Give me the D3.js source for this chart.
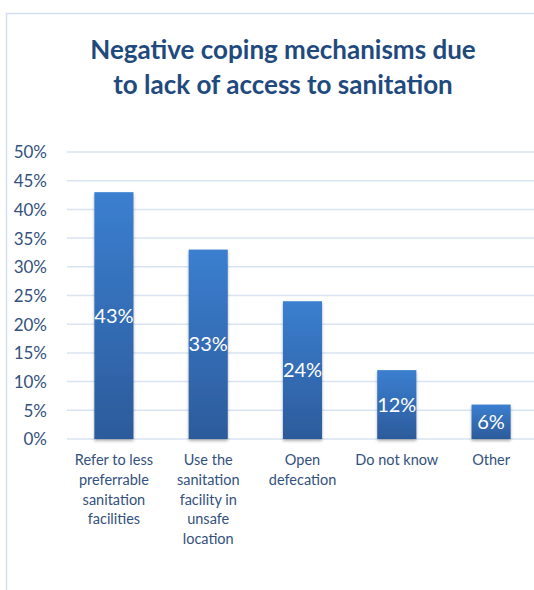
<!DOCTYPE html>
<html>
<head>
<meta charset="utf-8">
<script src="https://cdn.jsdelivr.net/npm/d3@7/dist/d3.min.js"></script>
<style>
  html, body { margin: 0; padding: 0; background: #fff; }
  svg { display: block; }
</style>
</head>
<body>
<svg id="chart" width="534" height="590"></svg>
<script>
// Coping mechanisms reported and their shares
const categories = [
  ["Refer to less", "preferrable", "sanitation", "facilities"],
  ["Use the", "sanitation", "facility in", "unsafe", "location"],
  ["Open", "defecation"],
  ["Do not know"],
  ["Other"]
];
const values = [0.43, 0.33, 0.24, 0.12, 0.06];
const yTicks = [0, 0.05, 0.10, 0.15, 0.20, 0.25, 0.30, 0.35, 0.40, 0.45, 0.50];
const titleLines = ["Negative coping mechanisms due", "to lack of access to sanitation"];

const font = "Lato, 'Open Sans', sans-serif";
const svg = d3.select("#chart");

// Gradient fill for the bars
const defs = svg.append("defs");
const grad = defs.append("linearGradient")
  .attr("id", "barGrad").attr("x1", 0).attr("y1", 0).attr("x2", 0).attr("y2", 1);
grad.append("stop").attr("offset", "0%").attr("stop-color", "#3b7fd0");
grad.append("stop").attr("offset", "100%").attr("stop-color", "#2c5b9b");
const shadow = defs.append("filter").attr("id", "shadow")
  .attr("x", "-20%").attr("y", "-5%").attr("width", "140%").attr("height", "115%");
shadow.append("feDropShadow").attr("dx", 0).attr("dy", 2).attr("stdDeviation", 1.5)
  .attr("flood-color", "#000").attr("flood-opacity", 0.3);

// Chart frame
svg.append("rect")
  .attr("x", 6.5).attr("y", 13.5).attr("width", 540).attr("height", 590)
  .attr("fill", "none").attr("stroke", "#d3e0f0").attr("stroke-width", 1.5);

// Title
svg.append("text")
  .attr("x", 283).attr("y", 59)
  .attr("text-anchor", "middle")
  .attr("font-family", font)
  .attr("font-weight", "bold").attr("font-size", 26)
  .attr("fill", "#1f4a7e")
  .selectAll("tspan").data(titleLines).join("tspan")
  .attr("x", 283).attr("dy", (d, i) => i === 0 ? 0 : 35)
  .text(d => d);

const margin = { left: 67, right: -4 };
const width = 534 - margin.left - margin.right;
const plotTop = 152, plotBottom = 439;

const x = d3.scaleBand()
  .domain(d3.range(values.length))
  .range([margin.left, margin.left + width])
  .paddingInner(0.585).paddingOuter(0.29);

const y = d3.scaleLinear().domain([0, 0.5]).range([plotBottom, plotTop]);

// Gridlines
svg.append("g")
  .selectAll("line").data(yTicks).join("line")
  .attr("x1", margin.left).attr("x2", 534)
  .attr("y1", d => y(d)).attr("y2", d => y(d))
  .attr("stroke", "#d9e4f2").attr("stroke-width", 1.5);

// Y axis labels
const yAxis = d3.axisLeft(y).tickValues(yTicks).tickFormat(d3.format(".0%")).tickSize(0).tickPadding(0);
const gy = svg.append("g").attr("transform", "translate(47,0)").call(yAxis);
gy.select(".domain").remove();
gy.selectAll("text")
  .attr("font-family", font).attr("font-size", 17)
  .attr("fill", "#33517d").attr("dy", "0.35em");

// Bars
svg.append("g")
  .selectAll("rect").data(values).join("rect")
  .attr("x", (d, i) => x(i))
  .attr("y", d => y(d))
  .attr("width", x.bandwidth())
  .attr("height", d => plotBottom - y(d))
  .attr("fill", "url(#barGrad)")
  .attr("filter", "url(#shadow)");

// Value labels centred in bars
svg.append("g")
  .selectAll("text").data(values).join("text")
  .attr("x", (d, i) => x(i) + x.bandwidth() / 2)
  .attr("y", d => (y(d) + plotBottom) / 2)
  .attr("dy", "0.36em")
  .attr("text-anchor", "middle")
  .attr("font-family", font).attr("font-size", 20)
  .attr("fill", "#ffffff")
  .text(d => d3.format(".0%")(d));

// Category labels
const cat = svg.append("g")
  .selectAll("text").data(categories).join("text")
  .attr("text-anchor", "middle")
  .attr("font-family", font).attr("font-size", 14.5)
  .attr("fill", "#33517d")
  .attr("transform", (d, i) => `translate(${x(i) + x.bandwidth() / 2},465)`);
cat.selectAll("tspan").data(d => d).join("tspan")
  .attr("x", 0).attr("y", (d, i) => i * 19.8)
  .text(d => d);
</script>
</body>
</html>
